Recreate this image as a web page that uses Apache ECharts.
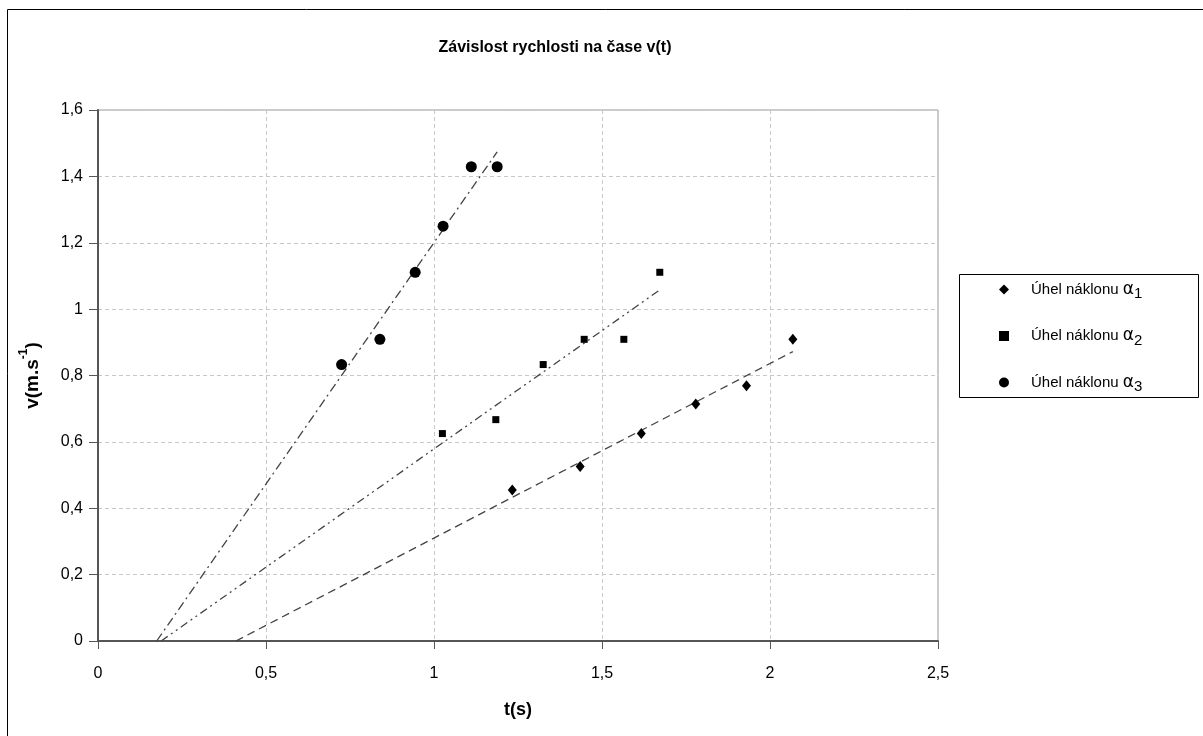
<!DOCTYPE html>
<html>
<head>
<meta charset="utf-8">
<script src="https://cdn.jsdelivr.net/npm/echarts@6/dist/echarts.min.js"></script>
<style>
html,body{margin:0;padding:0;background:#fff;}
#c{width:1203px;height:736px;}
</style>
</head>
<body>
<div id="c"></div>
<script>
// ---- data ----
const title = 'Závislost rychlosti na čase v(t)';
const seriesNames = ['Úhel náklonu α1', 'Úhel náklonu α2', 'Úhel náklonu α3'];
const t1 = [1.233, 1.435, 1.617, 1.779, 1.930, 2.068];
const v1 = [0.455, 0.526, 0.625, 0.714, 0.769, 0.909];
const t2 = [1.025, 1.184, 1.325, 1.447, 1.565, 1.672];
const v2 = [0.625, 0.667, 0.833, 0.909, 0.909, 1.111];
const t3 = [0.725, 0.839, 0.944, 1.027, 1.111, 1.188];
const v3 = [0.833, 0.909, 1.111, 1.250, 1.429, 1.429];
const xTicks = [0, 0.5, 1, 1.5, 2, 2.5];
const yTicks = [0, 0.2, 0.4, 0.6, 0.8, 1, 1.2, 1.4, 1.6];

const FONT = "'Liberation Sans', Arial, sans-serif";

function pairs(xs, ys) { return xs.map((x, i) => [x, ys[i]]); }
// least-squares linear trend (as in the spreadsheet), drawn from its x-intercept to the last point
function trend(xs, ys) {
  const n = xs.length;
  const mx = xs.reduce((a, b) => a + b, 0) / n;
  const my = ys.reduce((a, b) => a + b, 0) / n;
  let sxy = 0, sxx = 0;
  for (let i = 0; i < n; i++) { sxy += (xs[i] - mx) * (ys[i] - my); sxx += (xs[i] - mx) ** 2; }
  const a = sxy / sxx, b = my - a * mx;
  const xe = Math.max(...xs);
  return [[-b / a, 0], [xe, a * xe + b]];
}
function fmt(v) { return String(Number(v.toFixed(2))).replace('.', ','); }

const chart = echarts.init(document.getElementById('c'), null, { renderer: 'canvas' });

const markerColor = '#000';
const trendColor = '#444';

chart.setOption({
  animation: false,
  backgroundColor: '#fff',
  title: {
    text: title,
    left: 550, top: 35, textAlign: 'center',
    textStyle: { fontFamily: FONT, fontSize: 16, fontWeight: 'bold', color: '#000' }
  },
  grid: { left: 98, top: 110, width: 840, height: 531, show: true, borderColor: '#999', borderWidth: 1, backgroundColor: 'transparent' },
  legend: {
    orient: 'vertical',
    left: 994, top: 276, padding: 5,
    itemWidth: 10, itemHeight: 10, itemGap: 26,
    data: seriesNames,
    formatter: function (name) {
      const k = name.slice(-1);
      return '{t|Úhel náklonu }{g|α}{s|' + k + '}';
    },
    textStyle: {
      fontFamily: FONT, color: '#000',
      padding: [0, 0, 0, 17],
      rich: {
        t: { fontFamily: FONT, fontSize: 15, color: '#000', lineHeight: 24, verticalAlign: 'middle' },
        g: { fontFamily: "'DejaVu Sans', sans-serif", fontSize: 17, color: '#000', lineHeight: 24, verticalAlign: 'middle' },
        s: { fontFamily: FONT, fontSize: 15, color: '#000', lineHeight: 14, verticalAlign: 'bottom', padding: [0, 0, 0, 0] }
      }
    }
  },
  graphic: [
    { type: 'rect', shape: { x: 7.5, y: 9.5, width: 1220, height: 760 }, style: { fill: 'none', stroke: '#000', lineWidth: 1 }, silent: true, z: -1 },
    { type: 'rect', shape: { x: 959.5, y: 274.5, width: 239, height: 123 }, style: { fill: 'none', stroke: '#000', lineWidth: 1 }, silent: true }
  ],
  xAxis: {
    type: 'value', min: 0, max: 2.5, interval: 0.5,
    name: 't(s)', nameLocation: 'middle', nameGap: 60,
    nameTextStyle: { fontFamily: FONT, fontSize: 18, fontWeight: 'bold', color: '#000' },
    axisLine: { show: true, onZero: false, lineStyle: { color: '#555', width: 2 } },
    axisTick: { show: true, length: 8, lineStyle: { color: '#555', width: 1 } },
    axisLabel: { margin: 25, fontFamily: FONT, fontSize: 16, color: '#000', formatter: fmt },
    splitLine: { show: true, lineStyle: { color: '#c8c8c8', type: [4, 3], width: 1 } }
  },
  yAxis: {
    type: 'value', min: 0, max: 1.6, interval: 0.2,
    name: '{b|v(m.s}{p|-1}{b|)}', nameLocation: 'middle', nameGap: 56, nameRotate: 90,
    nameTextStyle: {
      fontFamily: FONT, fontWeight: 'bold', color: '#000',
      rich: {
        b: { fontFamily: FONT, fontSize: 19, fontWeight: 'bold', color: '#000', lineHeight: 24, verticalAlign: 'bottom' },
        p: { fontFamily: FONT, fontSize: 12, fontWeight: 'bold', color: '#000', lineHeight: 12, verticalAlign: 'top' }
      }
    },
    axisLine: { show: true, onZero: false, lineStyle: { color: '#555', width: 2 } },
    axisTick: { show: true, length: 9, lineStyle: { color: '#555', width: 1 } },
    axisLabel: { margin: 15, fontFamily: FONT, fontSize: 16, color: '#000', formatter: fmt },
    splitLine: { show: true, lineStyle: { color: '#c8c8c8', type: [4, 3], width: 1 } }
  },
  series: [
    { name: seriesNames[0], type: 'scatter', symbol: 'diamond', symbolSize: [9, 11], itemStyle: { color: markerColor, opacity: 1 }, data: pairs(t1, v1), z: 5 },
    { name: seriesNames[1], type: 'scatter', symbol: 'rect', symbolSize: 7, itemStyle: { color: markerColor, opacity: 1 }, data: pairs(t2, v2), z: 5 },
    { name: seriesNames[2], type: 'scatter', symbol: 'circle', symbolSize: 11, itemStyle: { color: markerColor, opacity: 1 }, data: pairs(t3, v3), z: 5 },
    { name: 'trend1', type: 'line', data: trend(t1, v1), showSymbol: false, symbol: 'none', lineStyle: { color: trendColor, width: 1.3, type: [8, 5] }, z: 3, silent: true },
    { name: 'trend2', type: 'line', data: trend(t2, v2), showSymbol: false, symbol: 'none', lineStyle: { color: trendColor, width: 1.3, type: [8, 4, 2, 4, 2, 4] }, z: 3, silent: true },
    { name: 'trend3', type: 'line', data: trend(t3, v3), showSymbol: false, symbol: 'none', lineStyle: { color: trendColor, width: 1.3, type: [9, 4, 2, 4] }, z: 3, silent: true }
  ]
});
</script>
</body>
</html>
